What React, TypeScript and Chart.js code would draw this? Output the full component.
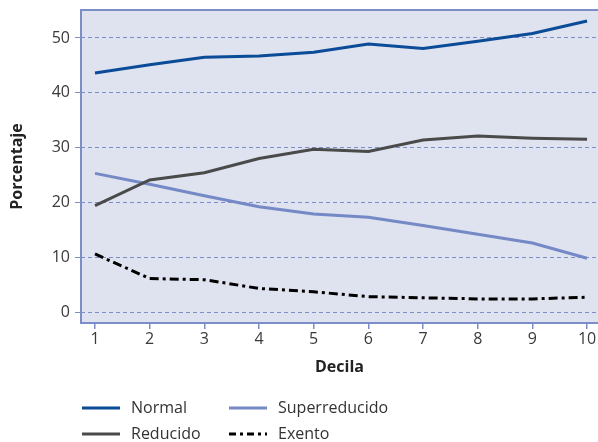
import { useEffect, useRef } from "react";
import { Chart, registerables } from "chart.js";

Chart.register(...registerables);

const deciles = [1, 2, 3, 4, 5, 6, 7, 8, 9, 10];
const normal = [43.6, 45.1, 46.5, 46.7, 47.4, 48.9, 48.1, 49.4, 50.8, 53.1];
const reducido = [19.4, 24.1, 25.4, 28.0, 29.7, 29.3, 31.4, 32.1, 31.7, 31.5];
const superreducido = [25.3, 23.3, 21.2, 19.2, 17.9, 17.3, 15.8, 14.2, 12.6, 9.8];
const exento = [10.6, 6.1, 5.9, 4.3, 3.7, 2.8, 2.6, 2.4, 2.4, 2.7];
const yTicks = [0, 10, 20, 30, 40, 50];

const C_NORMAL = "#0a4c97";
const C_REDUCIDO = "#4a4a4a";
const C_SUPER = "#7489c6";
const C_EXENTO = "#000000";
const C_FRAME = "#7b8ec8";
const C_PANEL = "#dfe2ef";
const FONT = "'Open Sans', 'Noto Sans', sans-serif";

const pts = (vals: number[]) => deciles.map((d, i) => ({ x: d, y: vals[i] }));

const legendItems = [
  { label: "Normal", color: C_NORMAL, dash: [] as number[], col: 0, row: 0 },
  { label: "Superreducido", color: C_SUPER, dash: [] as number[], col: 1, row: 0 },
  { label: "Reducido", color: C_REDUCIDO, dash: [] as number[], col: 0, row: 1 },
  { label: "Exento", color: C_EXENTO, dash: [7, 4, 3, 4], col: 1, row: 1 },
];

const panelPlugin = {
  id: "panel",
  beforeDraw(chart: any) {
    const { ctx, chartArea: a } = chart;
    ctx.save();
    ctx.fillStyle = C_PANEL;
    ctx.fillRect(a.left, a.top, a.right - a.left, a.bottom - a.top);
    ctx.restore();
  },
  afterDatasetsDraw(chart: any) {
    const { ctx, chartArea: a } = chart;
    ctx.save();
    ctx.strokeStyle = C_FRAME;
    ctx.lineWidth = 2;
    ctx.beginPath();
    ctx.moveTo(a.right + 2, a.top);
    ctx.lineTo(a.left, a.top);
    ctx.lineTo(a.left, a.bottom);
    ctx.lineTo(a.right + 2, a.bottom);
    ctx.stroke();
    ctx.restore();
  },
  afterDraw(chart: any) {
    const { ctx } = chart;
    ctx.save();
    ctx.font = `16px ${FONT}`;
    ctx.textBaseline = "middle";
    ctx.fillStyle = "#333333";
    for (const it of legendItems) {
      const x0 = it.col === 0 ? 82 : 229;
      const y = it.row === 0 ? 408 : 434;
      ctx.strokeStyle = it.color;
      ctx.lineWidth = 3;
      ctx.setLineDash(it.dash);
      ctx.beginPath();
      ctx.moveTo(x0, y);
      ctx.lineTo(x0 + 38, y);
      ctx.stroke();
      ctx.setLineDash([]);
      ctx.fillText(it.label, x0 + 49, y);
    }
    ctx.restore();
  },
};

export default function App() {
  const ref = useRef<HTMLCanvasElement>(null);

  useEffect(() => {
    const line = (label: string, data: number[], color: string, dash: number[] = []) => ({
      label,
      data: pts(data),
      borderColor: color,
      backgroundColor: color,
      borderWidth: 3,
      borderDash: dash,
      pointRadius: 0,
      tension: 0,
      fill: false,
    });

    const chart = new Chart(ref.current!, {
      type: "line",
      data: {
        datasets: [
          line("Normal", normal, C_NORMAL),
          line("Reducido", reducido, C_REDUCIDO),
          line("Superreducido", superreducido, C_SUPER),
          line("Exento", exento, C_EXENTO, [9, 4, 3, 4]),
        ],
      },
      options: {
        animation: false,
        responsive: false,
        layout: { padding: { left: 0, right: 0, top: 10, bottom: 65 } },
        plugins: { legend: { display: false }, tooltip: { enabled: false } },
        scales: {
          x: {
            type: "linear",
            min: 0.744,
            max: 10.2,
            afterFit: (s: any) => {
              s.height = 54;
              s.paddingLeft = 0;
              s.paddingRight = 0;
            },
            afterBuildTicks: (s: any) => { s.ticks = deciles.map((v) => ({ value: v })); },
            grid: { drawOnChartArea: false, drawTicks: true, tickLength: 6, color: C_FRAME, tickColor: C_FRAME, lineWidth: 1.5 },
            border: { display: false },
            ticks: { color: "#3a3a3a", font: { family: FONT, size: 16 }, padding: 1, maxRotation: 0 },
            title: {
              display: true,
              text: "Decila",
              color: "#222222",
              font: { family: FONT, size: 16, weight: "bold", lineHeight: 1.2 },
              padding: { top: 0, bottom: 0 },
            },
          },
          y: {
            min: -2.0,
            max: 55.1,
            afterFit: (s: any) => {
              s.width = 81;
              s.paddingTop = 0;
              s.paddingBottom = 0;
            },
            afterBuildTicks: (s: any) => { s.ticks = yTicks.map((v) => ({ value: v })); },
            grid: { color: C_FRAME, tickColor: C_FRAME, lineWidth: 1, tickLength: 6, drawTicks: true },
            border: { display: false, dash: [4, 3] },
            ticks: { color: "#3a3a3a", font: { family: FONT, size: 16 }, padding: 5 },
            title: {
              display: true,
              text: "Porcentaje",
              color: "#222222",
              font: { family: FONT, size: 16, weight: "bold", lineHeight: 1.2 },
              padding: { top: 8, bottom: 0 },
            },
          },
        },
      },
      plugins: [panelPlugin],
    } as any);
    return () => chart.destroy();
  }, []);

  return (
    <div style={{ position: "fixed", left: 0, top: 0, width: 598, height: 442, background: "#ffffff" }}>
      <canvas ref={ref} width={598} height={442} style={{ display: "block", width: 598, height: 442 }} />
    </div>
  );
}
